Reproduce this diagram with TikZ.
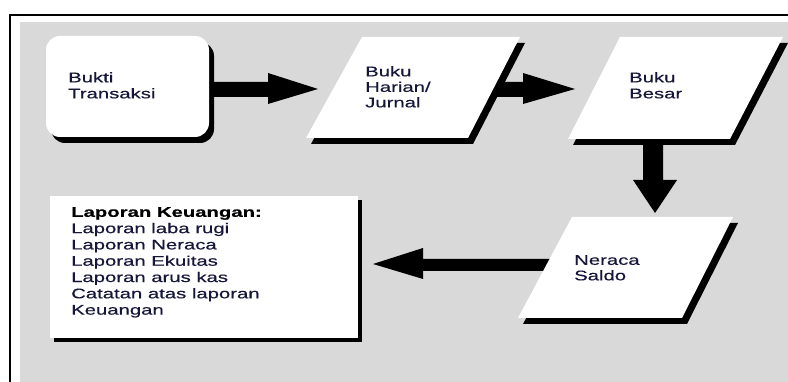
\documentclass[tikz,border=0pt]{standalone}
\usepackage{fontspec}
\setmainfont{Liberation Sans}
\newfontfamily\df[FakeStretch=1.45,FakeBold=0.4]{Liberation Sans}
\definecolor{bg}{RGB}{217,217,217}
\definecolor{ink}{RGB}{22,22,58}
\begin{document}
\begin{tikzpicture}[x=1pt,y=-1pt,
  shad/.style={fill=black},
  paper/.style={fill=white},
  lbl/.style={anchor=north west, inner sep=0pt, align=left, font=\df\fontsize{14}{16}\selectfont, text=ink},
  fat/.style={fill=black}]
\useasboundingbox (0,0) rectangle (788,382);
\fill[white] (0,0) rectangle (788,382);
\draw[line width=2pt] (10,382) -- (10,15) -- (788,15);
\fill[bg] (20,22) rectangle (788,382);

% fat arrows (drawn first, shapes cover their tails)
\fill[fat] (205,82) -- (268,82) -- (268,73) -- (318,89) -- (268,104) -- (268,97) -- (205,97) -- cycle;
\fill[fat] (480,82) -- (523,82) -- (523,73) -- (575,89) -- (523,104) -- (523,97) -- (480,97) -- cycle;
\fill[fat] (643,140) -- (663,140) -- (663,180) -- (677,180) -- (655,213) -- (633,180) -- (643,180) -- cycle;
\fill[fat] (555,259) -- (423,259) -- (423,248) -- (373,264) -- (423,279) -- (423,271) -- (555,271) -- cycle;

% Bukti Transaksi
\fill[shad, rounded corners=14pt] (51,42) rectangle (214,143);
\fill[paper, rounded corners=14pt] (46,36) rectangle (209,137);
\node[lbl] (bukti) at (68,72) {Bukti\\Transaksi};

% Buku Harian / Jurnal
\fill[shad] (367,43) -- (525,43) -- (473,144) -- (311,144) -- cycle;
\fill[paper] (362,37) -- (520,37) -- (468,138) -- (306,138) -- cycle;
\node[lbl, font=\df\fontsize{14}{15.5}\selectfont] (jurnal) at (365,66) {Buku\\Harian/\\Jurnal};

% Buku Besar
\fill[shad] (625,43) -- (788,43) -- (735,145) -- (573,145) -- cycle;
\fill[paper] (620,37) -- (783,37) -- (730,139) -- (568,139) -- cycle;
\node[lbl] (besar) at (629,72) {Buku\\Besar};

% Neraca Saldo
\fill[shad] (577,223) -- (738,223) -- (687,324) -- (523,324) -- cycle;
\fill[paper] (572,217) -- (733,217) -- (682,318) -- (518,318) -- cycle;
\node[lbl, font=\df\fontsize{14}{15.5}\selectfont] (saldo) at (574,255) {Neraca\\Saldo};

% Laporan Keuangan
\fill[shad] (54,200) rectangle (362,342);
\fill[paper] (50,196) rectangle (358,338);
\node[lbl, font=\df\fontsize{14}{16.3}\selectfont] (lap) at (71,207)
  {\textcolor{black}{\bfseries Laporan Keuangan:}\\Laporan laba rugi\\Laporan Neraca\\Laporan Ekuitas\\Laporan arus kas\\Catatan atas laporan\\Keuangan};
\end{tikzpicture}
\end{document}
